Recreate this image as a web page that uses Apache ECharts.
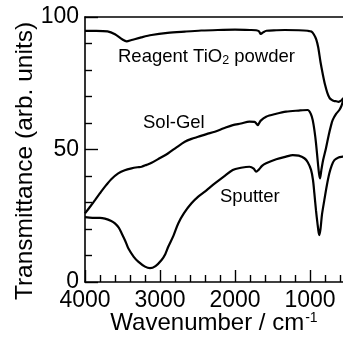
<!DOCTYPE html>
<html><head><meta charset="utf-8">
<script src="https://cdn.jsdelivr.net/npm/echarts@6/dist/echarts.min.js"></script>
<style>html,body{margin:0;padding:0;background:#fff}#c{width:343px;height:338px}</style>
</head><body><div id="c"></div><script>
// Wavenumber (cm-1) and transmittance (arb. units)
var reagentWn = [4000,3850,3700,3600,3500,3445,3380,3250,3112,2900,2669,2450,2229,2000,1800,1720,1680,1656,1620,1581,1450,1337,1150,1030,982,950,916,890,860,830,800,770,740,710,680,650,620,600,580,560,540,520];
var reagentT  = [94.8,94.8,94.6,93.5,91.5,90.8,91.3,92.3,93.2,94.0,94.5,94.9,95.1,95.2,95.1,95.0,94.6,93.6,94.3,94.8,95.0,95.1,95.0,94.8,94.5,93.5,91.5,88.5,83.0,78.5,74.5,71.5,69.5,68.7,68.3,68.2,68.0,68.2,68.6,69.2,69.6,69.8];

var solgelWn = [4000,3930,3867,3800,3734,3650,3557,3470,3379,3300,3245,3180,3112,3000,2890,2780,2669,2580,2491,2380,2269,2150,2030,1920,1807,1740,1710,1696,1660,1585,1450,1319,1150,1031,990,964,940,920,895,880,867,850,825,787,750,720,698,650,609,580,560,540,520];
var solgelT  = [25.9,28.5,30.9,33.5,36.0,38.8,41.0,42.2,42.9,43.3,43.5,44.2,45.0,46.8,48.6,50.8,52.9,54.0,54.8,55.8,56.7,58.0,59.2,59.8,60.5,60.4,59.6,59.2,60.8,62.4,63.5,64.3,64.7,64.9,63.5,61.1,57.0,52.4,45.0,41.0,39.1,42.0,46.0,50.5,55.5,59.0,61.1,63.5,64.9,66.5,68.2,69.0,69.4];

var sputterWn = [4000,3900,3800,3734,3650,3601,3550,3512,3460,3423,3350,3290,3200,3134,3060,2979,2930,2890,2820,2757,2680,2580,2490,2402,2330,2269,2150,2030,1920,1807,1750,1718,1680,1640,1585,1450,1320,1230,1150,1075,1030,986,960,942,920,900,885,875,860,840,809,775,742,710,675,620,565,520];
var sputterT  = [24.5,24.2,24.2,23.9,23.0,22.1,20.5,18.4,15.3,12.7,9.5,7.7,5.8,5.2,6.0,8.3,10.5,13.3,17.5,22.1,26.0,29.7,32.2,34.1,35.8,37.2,39.8,42.3,43.1,43.5,42.8,41.6,42.5,43.8,44.8,46.3,47.3,47.9,47.7,46.7,45.2,42.3,38.5,33.5,27.0,22.0,18.7,17.7,20.0,25.5,30.9,36.5,41.0,44.0,46.0,47.0,47.3,47.5];

var xTicks = [4000,3000,2000,1000];
var yTicks = [0,50,100];

function pairs(a,b){return a.map(function(v,i){return [v,b[i]];});}
var FONT = '"Liberation Sans", Arial, Helvetica, sans-serif';

var chart = echarts.init(document.getElementById('c'), null, {renderer:'canvas'});
chart.setOption({
  animation:false,
  backgroundColor:'#fff',
  grid:{left:85, top:17, bottom:56, right:-42, containLabel:false, outerBoundsMode:'none'},
  xAxis:[{
    type:'value', inverse:true, min:0, max:4000, interval:1000,
    axisLine:{show:true, onZero:false, lineStyle:{color:'#000', width:1.6}},
    axisTick:{show:true, inside:true, length:12, lineStyle:{color:'#000', width:1.4}},
    minorTick:{show:true, splitNumber:5, length:7, lineStyle:{color:'#000', width:1.4}},
    splitLine:{show:false},
    axisLabel:{color:'#000', fontSize:23, fontFamily:FONT, margin:7,
      formatter:function(v){return xTicks.indexOf(v)>=0 ? String(v) : '';}}
  },{
    type:'value', position:'top', inverse:true, min:0, max:4000,
    axisLine:{show:true, onZero:false, lineStyle:{color:'#000', width:1.6}},
    axisTick:{show:false}, axisLabel:{show:false}, splitLine:{show:false}
  }],
  yAxis:{
    type:'value', min:0, max:100, interval:50,
    axisLine:{show:true, onZero:false, lineStyle:{color:'#000', width:1.6}},
    axisTick:{show:true, inside:true, length:13, lineStyle:{color:'#000', width:1.4}},
    minorTick:{show:true, splitNumber:5, length:7, lineStyle:{color:'#000', width:1.4}},
    splitLine:{show:false},
    axisLabel:{color:'#000', fontSize:23, fontFamily:FONT, margin:6,
      formatter:function(v){return yTicks.indexOf(v)>=0 ? String(v) : '';}}
  },
  series:[
    {name:'Reagent TiO2 powder', type:'line', data:pairs(reagentWn,reagentT), showSymbol:false, smooth:0.3,
      lineStyle:{color:'#000', width:2.2}},
    {name:'Sol-Gel', type:'line', data:pairs(solgelWn,solgelT), showSymbol:false, smooth:0.3,
      lineStyle:{color:'#000', width:2.2}},
    {name:'Sputter', type:'line', data:pairs(sputterWn,sputterT), showSymbol:false, smooth:0.3,
      lineStyle:{color:'#000', width:2.2}}
  ],
  graphic:[
    {type:'text', x:25, y:161, rotation:Math.PI/2,
      style:{text:'Transmittance (arb. units)', fontSize:24.5, fontFamily:FONT, fill:'#000', align:'center', verticalAlign:'middle'}},
    {type:'text', x:214, y:323,
      style:{text:'Wavenumber / cm{sup|-1}', fontSize:24, fontFamily:FONT, fill:'#000', align:'center', verticalAlign:'middle',
        rich:{sup:{fontSize:14, fontFamily:FONT, fill:'#000', verticalAlign:'top', padding:[0,0,10,1]}}}},
    {type:'text', x:118, y:57,
      style:{text:'Reagent TiO{sub|2} powder', fontSize:18.5, fontFamily:FONT, fill:'#000', align:'left', verticalAlign:'middle',
        rich:{sub:{fontSize:12.5, fontFamily:FONT, fill:'#000', verticalAlign:'bottom', padding:[8,0,0,0]}}}},
    {type:'text', x:143, y:123,
      style:{text:'Sol-Gel', fontSize:18.5, fontFamily:FONT, fill:'#000', align:'left', verticalAlign:'middle'}},
    {type:'text', x:220, y:197,
      style:{text:'Sputter', fontSize:18.5, fontFamily:FONT, fill:'#000', align:'left', verticalAlign:'middle'}}
  ]
});
</script></body></html>
